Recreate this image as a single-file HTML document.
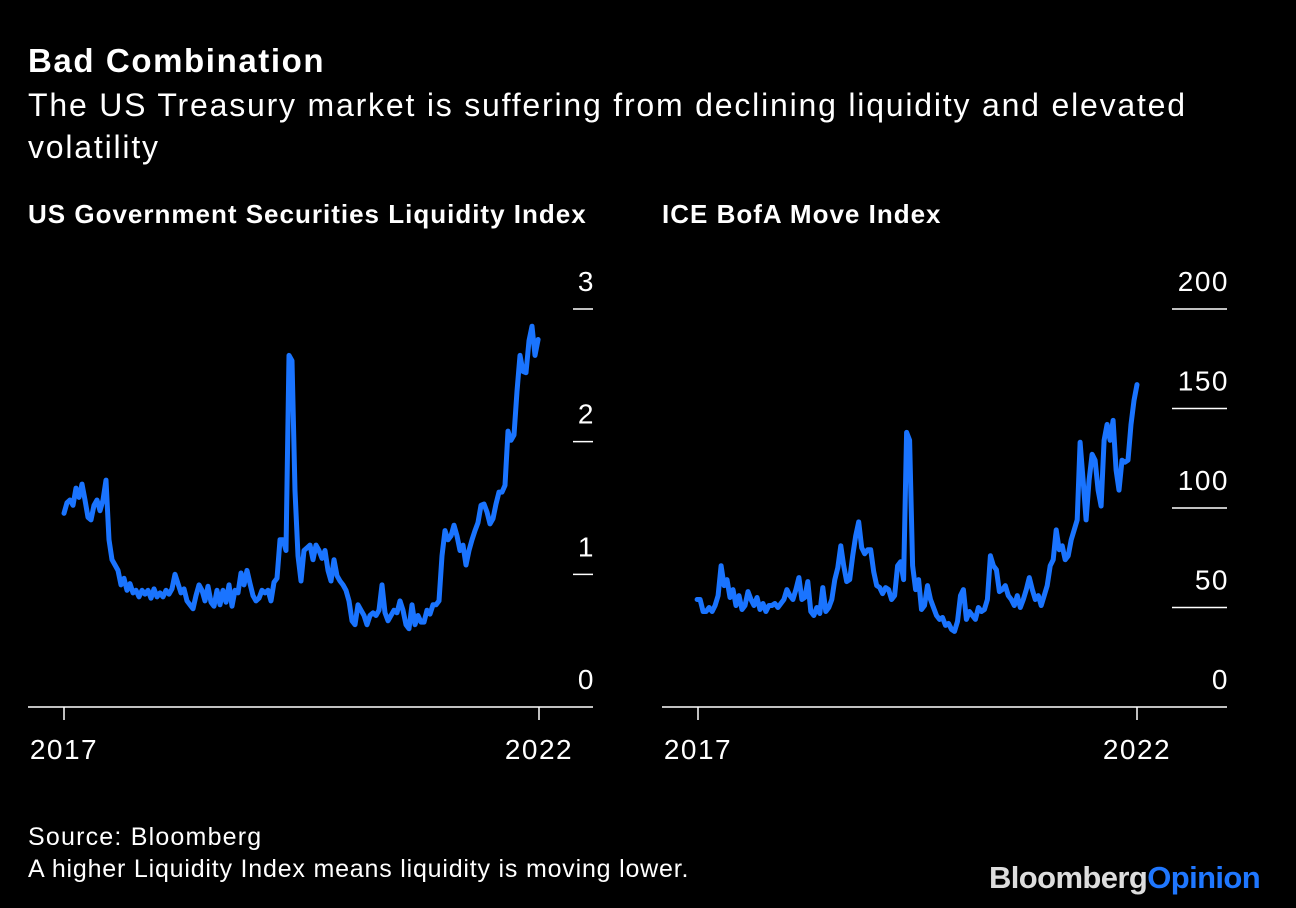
<!DOCTYPE html>
<html><head><meta charset="utf-8">
<style>
body{margin:0;background:#000;width:1296px;height:908px;overflow:hidden;font-family:"Liberation Sans",sans-serif;color:#fff}
.t{position:absolute;white-space:nowrap}
</style></head>
<body>
<div class="t" style="left:28px;top:42px;font-size:33px;font-weight:bold;letter-spacing:1.6px">Bad Combination</div>
<div class="t" style="left:28px;top:84px;font-size:32px;line-height:42px;letter-spacing:1.8px;white-space:normal;width:1230px">The US Treasury market is suffering from declining liquidity and elevated volatility</div>
<div class="t" style="left:28px;top:199px;font-size:26px;font-weight:bold;letter-spacing:1px">US Government Securities Liquidity Index</div>
<div class="t" style="left:662px;top:199px;font-size:26px;font-weight:bold;letter-spacing:1px">ICE BofA Move Index</div>
<div class="t" style="left:28px;top:823px;font-size:25px;letter-spacing:1.2px">Source: Bloomberg</div>
<div class="t" style="left:28px;top:855px;font-size:25px;letter-spacing:0.8px">A higher Liquidity Index means liquidity is moving lower.</div>
<div class="t" style="left:989px;top:860px;font-size:31px;font-weight:bold;letter-spacing:-0.6px"><span style="color:#ddd">Bloomberg</span><span style="color:#1f77ff">Opinion</span></div>
<svg id="chart" width="1296" height="908" style="position:absolute;left:0;top:0"></svg>
<script>
const leftYTicks=[0,1,2,3];
const leftXTicks=[2017,2022];
const leftStart=2017, leftEnd=2021.99;
const leftValues=[1.46,1.54,1.56,1.52,1.65,1.58,1.68,1.56,1.43,1.41,1.52,1.56,1.48,1.56,1.71,1.26,1.11,1.07,1.03,0.92,0.97,0.88,0.93,0.86,0.88,0.83,0.88,0.85,0.88,0.82,0.89,0.83,0.86,0.83,0.88,0.85,0.89,1.0,0.93,0.86,0.89,0.80,0.77,0.74,0.84,0.92,0.88,0.80,0.91,0.79,0.76,0.88,0.77,0.88,0.79,0.92,0.76,0.88,0.86,1.01,0.92,1.03,0.93,0.84,0.80,0.82,0.88,0.86,0.88,0.80,0.94,0.97,1.26,1.26,1.18,2.65,2.61,1.63,1.14,0.95,1.18,1.2,1.22,1.11,1.22,1.18,1.12,1.18,1.03,0.95,1.11,0.99,0.95,0.92,0.88,0.80,0.65,0.62,0.77,0.73,0.69,0.62,0.69,0.71,0.69,0.73,0.92,0.71,0.65,0.69,0.73,0.71,0.80,0.73,0.62,0.59,0.77,0.62,0.69,0.64,0.64,0.73,0.70,0.77,0.77,0.80,1.14,1.33,1.26,1.29,1.37,1.29,1.18,1.22,1.07,1.18,1.26,1.33,1.39,1.52,1.53,1.47,1.38,1.42,1.53,1.62,1.62,1.67,2.08,2.01,2.05,2.38,2.65,2.53,2.52,2.76,2.87,2.65,2.77];
const rightYTicks=[0,50,100,150,200];
const rightXTicks=[2017,2022];
const rightStart=2016.99, rightEnd=2022.0;
const rightValues=[54,54,48,48,50,48,51,56,71,61,64,55,59,51,56,49,51,58,54,51,55,49,52,48,51,51,52,50,52,54,59,56,54,59,65,54,55,63,48,46,50,47,60,48,50,54,64,70,81,71,63,64,76,86,93,80,77,79,79,68,61,60,57,60,59,54,56,71,73,64,138,134,71,59,64,49,51,61,54,50,46,44,45,41,42,39,38,43,56,59,44,48,46,44,50,48,49,54,76,71,69,58,59,61,56,54,51,56,50,54,59,65,59,54,56,51,56,61,71,74,89,79,81,74,76,84,89,94,133,114,94,114,127,124,109,101,134,142,134,144,119,109,124,123,124,142,154,162];

const svg=document.getElementById('chart');
const NS='http://www.w3.org/2000/svg';
function mk(tag,attrs){const e=document.createElementNS(NS,tag);for(const k in attrs)e.setAttribute(k,attrs[k]);svg.appendChild(e);return e;}

function panel(p){
  const xs=t=>p.x0+(t-2017)/5*(p.x1-p.x0);
  const ys=v=>p.yb-v/p.ymax*(p.yb-p.yt);
  const base=mk('line',{x1:p.axL,x2:p.axR,y1:p.yb,y2:p.yb,stroke:'#fff','stroke-width':1.5});
  
  
  p.yTicks.forEach(v=>{
    if(v>0){
      const l=mk('line',{x1:p.axR-p.tickW,x2:p.axR,y1:ys(v),y2:ys(v),stroke:'#fff','stroke-width':1.5});
      
      
    }
    const tx=mk('text',{x:p.axR+2,y:ys(v)-18,'text-anchor':'end',fill:'#fff','font-size':28,'letter-spacing':1.5});
    tx.textContent=v;
    
    
  });
  p.xTicks.forEach(t=>{
    const l=mk('line',{x1:xs(t),x2:xs(t),y1:p.yb,y2:p.yb+13,stroke:'#fff','stroke-width':1.5});
    
    
    const tx=mk('text',{x:xs(t),y:p.yb+52,'text-anchor':'middle',fill:'#fff','font-size':28,'letter-spacing':1.5});
    tx.textContent=t;
    
    
  });
  const n=p.values.length;
  const pts=p.values.map((v,i)=>{const t=p.start+(p.end-p.start)*i/(n-1);return xs(t).toFixed(1)+','+ys(v).toFixed(1);}).join(' ');
  const pl=mk('polyline',{points:pts,fill:'none',stroke:'#1a74ff','stroke-width':5,'stroke-linejoin':'round','stroke-linecap':'round'});
  
  
}
panel({name:'liquidity',x0:64,x1:539,yb:707,yt:309,ymax:3,axL:28,axR:593,tickW:20,yTicks:leftYTicks,xTicks:leftXTicks,values:leftValues,start:leftStart,end:leftEnd});
panel({name:'move',x0:698,x1:1137,yb:707,yt:309,ymax:200,axL:662,axR:1227,tickW:55,yTicks:rightYTicks,xTicks:rightXTicks,values:rightValues,start:rightStart,end:rightEnd});
</script>
</body></html>
